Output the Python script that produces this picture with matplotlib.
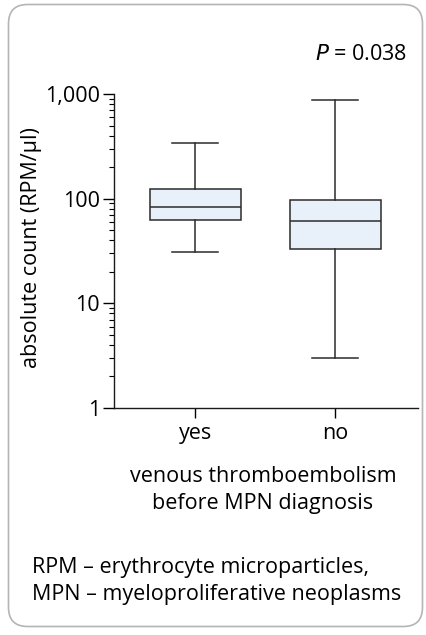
import matplotlib
matplotlib.use("Agg")
import matplotlib.pyplot as plt
from matplotlib.patches import FancyBboxPatch
from matplotlib.ticker import FixedLocator, LogLocator, NullFormatter

# ---- data ----
groups = ["yes", "no"]
whislo = [31, 3.0]
q1 = [62, 33]
med = [84, 61]
q3 = [124, 98]
whishi = [337, 870]
p_text = "0.038"

plt.rcParams['font.family'] = ['Open Sans', 'DejaVu Sans']
FS = 15.5

fig = plt.figure(figsize=(4.26, 6.35), dpi=100)

# rounded frame around the panel
frame = FancyBboxPatch((8.5 / 426, 8.5 / 635), 414 / 426, 622 / 635,
                       boxstyle="round,pad=0,rounding_size=0.045",
                       transform=fig.transFigure, fill=False,
                       edgecolor='#b5b5b5', linewidth=1.2,
                       mutation_aspect=426 / 635)
fig.patches.append(frame)

ax = fig.add_axes([114 / 426, 1 - 408 / 635, 304 / 426, 314 / 635])

stats = []
for i, g in enumerate(groups):
    stats.append(dict(label=g, whislo=whislo[i], q1=q1[i], med=med[i],
                      q3=q3[i], whishi=whishi[i], fliers=[]))

lc = '#2b2b2b'
ax.bxp(stats, positions=[1, 2], widths=0.65, capwidths=0.33,
       patch_artist=True, showfliers=False,
       boxprops=dict(facecolor='#e8f0f9', edgecolor=lc, linewidth=1.1),
       medianprops=dict(color=lc, linewidth=1.1),
       whiskerprops=dict(color=lc, linewidth=1.1),
       capprops=dict(color=lc, linewidth=1.1))

ax.set_yscale('log')
ax.set_ylim(1, 1000)
ax.set_xlim(0.42, 2.59)
ax.yaxis.set_major_locator(FixedLocator([1, 10, 100, 1000]))
ax.set_yticklabels(["1", "10", "100", "1,000"])
ax.yaxis.set_minor_locator(LogLocator(base=10, subs=range(2, 10)))
ax.yaxis.set_minor_formatter(NullFormatter())
ax.set_xticks([1, 2])
ax.set_xticklabels(groups)

for s in ['top', 'right']:
    ax.spines[s].set_visible(False)
for s in ['left', 'bottom']:
    ax.spines[s].set_linewidth(1.0)
    ax.spines[s].set_color('#1a1a1a')
ax.tick_params(axis='y', which='major', length=8, width=1.0, pad=2, labelsize=FS)
ax.tick_params(axis='y', which='minor', length=3.5, width=0.8)
ax.tick_params(axis='x', which='major', length=7, width=1.0, pad=4, labelsize=FS)
ax.patch.set_alpha(0)

fig.text(32 / 426, 1 - 248 / 635, "absolute count (RPM/µl)", rotation=90,
         ha='center', va='center', fontsize=FS)

fig.text(407 / 426, 1 - 55 / 635, r"$\it{P}$ = " + p_text, ha='right',
         va='center', fontsize=FS)
fig.text(263 / 426, 1 - 490 / 635, "venous thromboembolism\nbefore MPN diagnosis",
         ha='center', va='center', fontsize=FS, linespacing=1.4)
fig.text(32 / 426, 1 - 581 / 635,
         "RPM – erythrocyte microparticles,\nMPN – myeloproliferative neoplasms",
         ha='left', va='center', fontsize=FS, linespacing=1.4)

fig.savefig("out.png", dpi=100)
